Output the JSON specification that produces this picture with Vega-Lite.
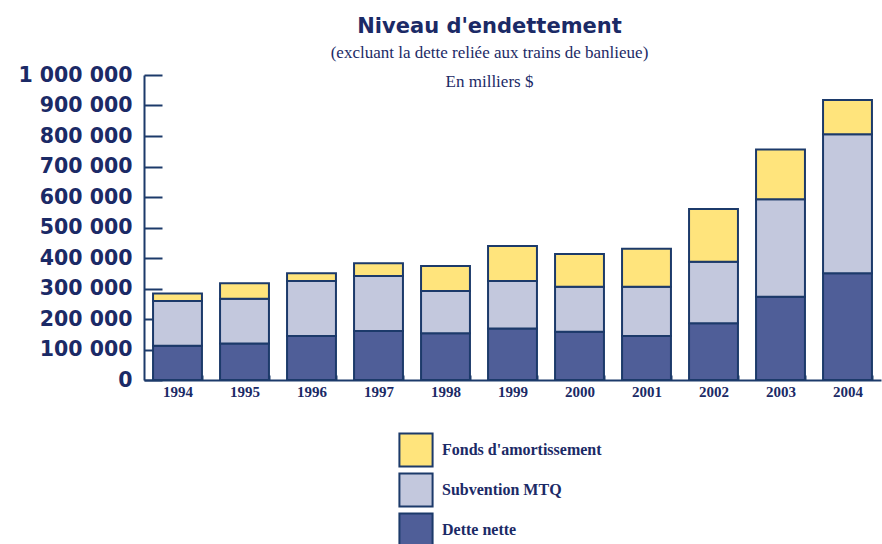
{
  "$schema": "https://vega.github.io/schema/vega-lite/v6.json",
  "width": 737,
  "height": 305,
  "autosize": {"type": "none"},
  "padding": {"left": 144, "top": 75, "right": 1, "bottom": 164},
  "background": "white",
  "title": {
    "text": "Niveau d'endettement",
    "subtitle": ["(excluant la dette reliée aux trains de banlieue)", "En milliers $"],
    "anchor": "middle",
    "frame": "group",
    "dx": -23,
    "offset": -25,
    "font": "DejaVu Sans",
    "fontSize": 21,
    "fontWeight": "bold",
    "color": "#1b2a66",
    "subtitleFont": "Liberation Serif",
    "subtitleFontSize": 17,
    "subtitleColor": "#1b2a66",
    "subtitleLineHeight": 29,
    "subtitlePadding": 8
  },
  "config": {
    "view": {"stroke": null},
    "locale": {"number": {"decimal": ",", "thousands": " ", "grouping": [3], "currency": ["", " $"]}}
  },
  "data": {
    "values": [
      {"annee": "1994", "categorie": "Dette nette", "valeur": 112000},
      {"annee": "1994", "categorie": "Subvention MTQ", "valeur": 147000},
      {"annee": "1994", "categorie": "Fonds d'amortissement", "valeur": 25000},
      {"annee": "1995", "categorie": "Dette nette", "valeur": 120000},
      {"annee": "1995", "categorie": "Subvention MTQ", "valeur": 146000},
      {"annee": "1995", "categorie": "Fonds d'amortissement", "valeur": 51000},
      {"annee": "1996", "categorie": "Dette nette", "valeur": 144000},
      {"annee": "1996", "categorie": "Subvention MTQ", "valeur": 181000},
      {"annee": "1996", "categorie": "Fonds d'amortissement", "valeur": 25000},
      {"annee": "1997", "categorie": "Dette nette", "valeur": 161000},
      {"annee": "1997", "categorie": "Subvention MTQ", "valeur": 180000},
      {"annee": "1997", "categorie": "Fonds d'amortissement", "valeur": 42000},
      {"annee": "1998", "categorie": "Dette nette", "valeur": 153000},
      {"annee": "1998", "categorie": "Subvention MTQ", "valeur": 139000},
      {"annee": "1998", "categorie": "Fonds d'amortissement", "valeur": 82000},
      {"annee": "1999", "categorie": "Dette nette", "valeur": 169000},
      {"annee": "1999", "categorie": "Subvention MTQ", "valeur": 156000},
      {"annee": "1999", "categorie": "Fonds d'amortissement", "valeur": 114000},
      {"annee": "2000", "categorie": "Dette nette", "valeur": 158000},
      {"annee": "2000", "categorie": "Subvention MTQ", "valeur": 148000},
      {"annee": "2000", "categorie": "Fonds d'amortissement", "valeur": 107000},
      {"annee": "2001", "categorie": "Dette nette", "valeur": 144000},
      {"annee": "2001", "categorie": "Subvention MTQ", "valeur": 162000},
      {"annee": "2001", "categorie": "Fonds d'amortissement", "valeur": 124000},
      {"annee": "2002", "categorie": "Dette nette", "valeur": 186000},
      {"annee": "2002", "categorie": "Subvention MTQ", "valeur": 202000},
      {"annee": "2002", "categorie": "Fonds d'amortissement", "valeur": 173000},
      {"annee": "2003", "categorie": "Dette nette", "valeur": 273000},
      {"annee": "2003", "categorie": "Subvention MTQ", "valeur": 320000},
      {"annee": "2003", "categorie": "Fonds d'amortissement", "valeur": 163000},
      {"annee": "2004", "categorie": "Dette nette", "valeur": 350000},
      {"annee": "2004", "categorie": "Subvention MTQ", "valeur": 456000},
      {"annee": "2004", "categorie": "Fonds d'amortissement", "valeur": 112000}
    ]
  },
  "transform": [
    {"calculate": "indexof(['Dette nette', 'Subvention MTQ', \"Fonds d'amortissement\"], datum.categorie)", "as": "ordre"}
  ],
  "mark": {"type": "bar", "stroke": "#1c3a6a", "strokeWidth": 2},
  "encoding": {
    "x": {
      "field": "annee",
      "type": "ordinal",
      "scale": {"paddingInner": 0.27, "paddingOuter": 0.135},
      "axis": {
        "title": null,
        "zindex": 0,
        "labelAngle": 0,
        "labelFont": "Liberation Serif",
        "labelFontSize": 15,
        "labelFontWeight": "bold",
        "labelColor": "#1b2a66",
        "labelPadding": 9,
        "tickBand": "extent",
        "tickSize": -5,
        "tickColor": "#1c3a6a",
        "tickWidth": 2,
        "domainColor": "#1c3a6a",
        "domainWidth": 2
      }
    },
    "y": {
      "field": "valeur",
      "type": "quantitative",
      "stack": "zero",
      "scale": {"domain": [0, 1000000], "nice": false},
      "axis": {
        "title": null,
        "zindex": 0,
        "values": [0, 100000, 200000, 300000, 400000, 500000, 600000, 700000, 800000, 900000, 1000000],
        "format": ",d",
        "grid": false,
        "labelFont": "DejaVu Sans",
        "labelFontSize": 20.5,
        "labelFontWeight": "bold",
        "labelColor": "#1b2a66",
        "labelPadding": 30,
        "tickSize": -18,
        "tickColor": "#1c3a6a",
        "tickWidth": 2,
        "domainColor": "#1c3a6a",
        "domainWidth": 2
      }
    },
    "order": {"field": "ordre", "type": "quantitative", "sort": "ascending"},
    "color": {
      "field": "categorie",
      "type": "nominal",
      "scale": {
        "domain": ["Fonds d'amortissement", "Subvention MTQ", "Dette nette"],
        "range": ["#ffe47c", "#c3c8dd", "#4f5e98"]
      },
      "legend": {
        "title": null,
        "orient": "none",
        "legendX": 254,
        "legendY": 357,
        "symbolType": "square",
        "symbolSize": 1100,
        "symbolStrokeColor": "#1c3a6a",
        "symbolStrokeWidth": 2,
        "symbolOpacity": 1,
        "rowPadding": -2,
        "labelFont": "Liberation Serif",
        "labelFontSize": 16,
        "labelFontWeight": "bold",
        "labelColor": "#1b2a66",
        "labelOffset": 8,
        "padding": 0
      }
    }
  }
}
